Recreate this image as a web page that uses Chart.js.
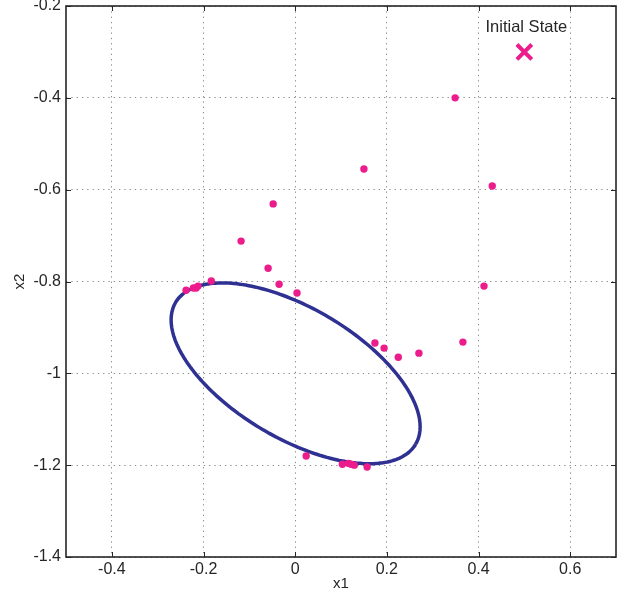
<!DOCTYPE html>
<html>
<head>
<meta charset="utf-8">
<script src="https://cdn.jsdelivr.net/npm/chart.js@4.4.1/dist/chart.umd.min.js"></script>
<style>
  html, body { margin: 0; padding: 0; background: #fff; }
  #wrap { width: 625px; height: 596px; }
</style>
</head>
<body>
<div id="wrap"><canvas id="plot"></canvas></div>
<script>
// axis ticks
const xTicks = [-0.4, -0.2, 0, 0.2, 0.4, 0.6];
const yTicks = [-0.2, -0.4, -0.6, -0.8, -1, -1.2, -1.4];

// sampled states (x1, x2)
const stateX1 = [0.349, 0.150, 0.430, 0.412, -0.048, -0.118, -0.059, -0.035, 0.004, -0.183,
                 -0.212, -0.216, -0.222, -0.238, 0.024, 0.174, 0.194, 0.225, 0.270, 0.366,
                 0.103, 0.116, 0.122, 0.129, 0.157];
const stateX2 = [-0.400, -0.555, -0.592, -0.810, -0.631, -0.712, -0.771, -0.806, -0.825, -0.799,
                 -0.810, -0.814, -0.814, -0.819, -1.180, -0.934, -0.945, -0.965, -0.956, -0.932,
                 -1.198, -1.196, -1.198, -1.200, -1.204];

const initialState = [0.5, -0.3];

// ellipse: centre, semi-axes, tilt (deg)
const ellipseCenter = [0.001, -1.0];
const ellipseAxes = [0.304, 0.142];
const ellipseAngle = -30.5;

const FONT = '"Liberation Sans", Arial, Helvetica, sans-serif';
const TEXT = '#262626';
const PINK = '#ec1c8c';
const NAVY = '#2e3192';

const ellipsePts = [];
{
  const th = ellipseAngle * Math.PI / 180;
  for (let i = 0; i <= 120; i++) {
    const t = 2 * Math.PI * i / 120;
    const u = ellipseAxes[0] * Math.cos(t), v = ellipseAxes[1] * Math.sin(t);
    ellipsePts.push({
      x: ellipseCenter[0] + u * Math.cos(th) - v * Math.sin(th),
      y: ellipseCenter[1] + u * Math.sin(th) + v * Math.cos(th)
    });
  }
}

// box, inward ticks, annotation and axis names
const frame = {
  id: 'frame',
  afterDraw(chart) {
    const { ctx, chartArea: a, scales: { x, y } } = chart;
    ctx.save();
    ctx.strokeStyle = TEXT;
    ctx.lineWidth = 1;
    ctx.beginPath();
    xTicks.forEach(v => {
      const px = Math.round(x.getPixelForValue(v)) + 0.5;
      ctx.moveTo(px, a.bottom); ctx.lineTo(px, a.bottom - 5);
      ctx.moveTo(px, a.top); ctx.lineTo(px, a.top + 5);
    });
    yTicks.forEach(v => {
      const py = Math.round(y.getPixelForValue(v)) + 0.5;
      ctx.moveTo(a.left, py); ctx.lineTo(a.left + 5, py);
      ctx.moveTo(a.right, py); ctx.lineTo(a.right - 5, py);
    });
    ctx.stroke();
    ctx.lineWidth = 1.6;
    ctx.strokeRect(a.left, a.top, a.right - a.left, a.bottom - a.top);

    ctx.fillStyle = TEXT;
    ctx.textAlign = 'center';
    ctx.textBaseline = 'middle';
    ctx.font = '16.5px ' + FONT;
    const ix = x.getPixelForValue(initialState[0]);
    const iy = y.getPixelForValue(initialState[1]);
    ctx.fillText('Initial State', ix + 2, iy - 24);

    ctx.font = '15px ' + FONT;
    ctx.fillText('x1', (a.left + a.right) / 2, 584);
    ctx.translate(20, (a.top + a.bottom) / 2);
    ctx.rotate(-Math.PI / 2);
    ctx.fillText('x2', 0, 0);
    ctx.restore();
  }
};

new Chart(document.getElementById('plot'), {
  type: 'scatter',
  data: {
    datasets: [
      {
        data: stateX1.map((v, i) => ({ x: v, y: stateX2[i] })),
        pointRadius: 3.7,
        pointBackgroundColor: PINK,
        pointBorderWidth: 0
      },
      {
        data: [{ x: initialState[0], y: initialState[1] }],
        pointStyle: 'crossRot',
        pointRadius: 10.5,
        pointBorderColor: PINK,
        pointBorderWidth: 4
      },
      {
        data: ellipsePts,
        showLine: true,
        borderColor: NAVY,
        borderWidth: 3.5,
        pointRadius: 0,
        tension: 0.05
      }
    ]
  },
  options: {
    responsive: true,
    maintainAspectRatio: false,
    animation: false,
    layout: { autoPadding: false, padding: { top: 6, right: 9, left: 0, bottom: 0 } },
    plugins: { legend: { display: false }, tooltip: { enabled: false } },
    scales: {
      x: {
        type: 'linear', min: -0.5, max: 0.7,
        afterBuildTicks: s => { s.ticks = xTicks.map(v => ({ value: v })); },
        afterFit: s => { s.height = 39; s.paddingLeft = 0; s.paddingRight = 0; },
        grid: { color: '#8a8a8a', drawTicks: false },
        border: { display: false, dash: [1.3, 4] },
        ticks: { color: TEXT, font: { family: FONT, size: 16 }, padding: 3,
                 maxRotation: 0, callback: v => String(Math.round(v * 10) / 10) }
      },
      y: {
        type: 'linear', min: -1.4, max: -0.2,
        afterBuildTicks: s => { s.ticks = yTicks.map(v => ({ value: v })); },
        afterFit: s => { s.width = 66; s.paddingTop = 0; s.paddingBottom = 0; },
        grid: { color: '#8a8a8a', drawTicks: false },
        border: { display: false, dash: [1.3, 4] },
        ticks: { color: TEXT, font: { family: FONT, size: 16 }, padding: 5,
                 callback: v => String(Math.round(v * 10) / 10) }
      }
    }
  },
  plugins: [frame]
});
</script>
</body>
</html>
